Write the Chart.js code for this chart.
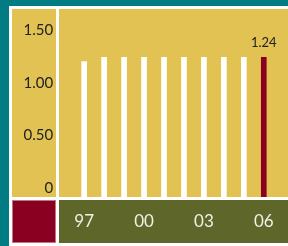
<!DOCTYPE html>
<html>
<head>
<meta charset="utf-8">
<script src="https://cdn.jsdelivr.net/npm/chart.js@4/dist/chart.umd.min.js"></script>
<style>
  html, body { margin: 0; padding: 0; background: #007c82; }
  #wrap { width: 288px; height: 246px; position: relative; }
</style>
</head>
<body>
<div id="wrap"><canvas id="chart" width="288" height="246"></canvas></div>
<script>
// 年ラベル（下段に表示するのは3年ごと）
const years = ['97', '98', '99', '00', '01', '02', '03', '04', '05', '06'];
const shownYears = ['97', '00', '03', '06'];
const values = [1.20, 1.24, 1.24, 1.24, 1.24, 1.24, 1.24, 1.24, 1.24, 1.24];
const yTicks = [0, 0.5, 1.0, 1.5];
const yLabels = ['0', '0.50', '1.00', '1.50'];

const COLORS = {
  teal: '#007c82',
  gold: '#e1c253',
  olive: '#5e6629',
  red: '#8a0020',
  bar: '#ffffff',
};

const Y_MIN = -0.0854;

// 背景パネルを描く
const panels = {
  id: 'panels',
  beforeDraw(chart) {
    const ctx = chart.ctx;
    ctx.save();
    ctx.fillStyle = COLORS.teal;
    ctx.fillRect(0, 0, 288, 246);
    ctx.fillStyle = '#ffffff';
    ctx.fillRect(9, 6, 279, 240);
    ctx.fillStyle = COLORS.gold;
    ctx.fillRect(12, 9, 44, 188);
    ctx.fillRect(59, 9, 229, 188);
    ctx.fillStyle = COLORS.red;
    ctx.fillRect(12, 200, 44, 43);
    ctx.strokeStyle = 'rgba(200,150,160,0.8)';
    ctx.lineWidth = 1;
    ctx.strokeRect(12.5, 200.5, 43, 42);
    ctx.fillStyle = COLORS.olive;
    ctx.fillRect(59, 200, 229, 43);
    ctx.restore();
  },
};

// 最新年の値ラベル
const lastLabel = {
  id: 'lastLabel',
  afterDatasetsDraw(chart) {
    const meta = chart.getDatasetMeta(0);
    const i = values.length - 1;
    const bar = meta.data[i];
    const ctx = chart.ctx;
    ctx.save();
    ctx.font = '13px Lato';
    ctx.fillStyle = '#222';
    ctx.textAlign = 'center';
    ctx.textBaseline = 'alphabetic';
    ctx.fillText(values[i].toFixed(2), bar.x, bar.y - 10);
    ctx.restore();
  },
};

new Chart(document.getElementById('chart'), {
  type: 'bar',
  data: {
    labels: years,
    datasets: [{
      data: values,
      backgroundColor: values.map((v, i) => i === values.length - 1 ? COLORS.red : COLORS.bar),
      barThickness: 5,
      base: Y_MIN,
      borderWidth: 0,
    }],
  },
  options: {
    responsive: false,
    animation: false,
    events: [],
    layout: { padding: { top: 20.5, right: 7.2, bottom: 0, left: 0 } },
    plugins: { legend: { display: false }, tooltip: { enabled: false } },
    scales: {
      x: {
        grid: { display: false, drawTicks: false },
        border: { display: false },
        afterFit(scale) { scale.height = 49; },
        ticks: {
          autoSkip: false,
          maxRotation: 0,
          padding: 14,
          color: '#f0f0e4',
          font: { family: 'Lato', size: 17 },
          callback(value) {
            const l = years[value];
            return shownYears.includes(l) ? l : '';
          },
        },
      },
      y: {
        min: Y_MIN,
        max: 1.5,
        grid: { display: false, drawTicks: false },
        border: { display: false },
        afterFit(scale) { scale.width = 74.2; },
        afterBuildTicks(scale) { scale.ticks = yTicks.map(v => ({ value: v })); },
        ticks: {
          padding: 21,
          color: '#222',
          font: { family: 'Lato', size: 15 },
          callback(value) {
            const k = yTicks.indexOf(value);
            return k >= 0 ? yLabels[k] : '';
          },
        },
      },
    },
  },
  plugins: [panels, lastLabel],
});
</script>
</body>
</html>
